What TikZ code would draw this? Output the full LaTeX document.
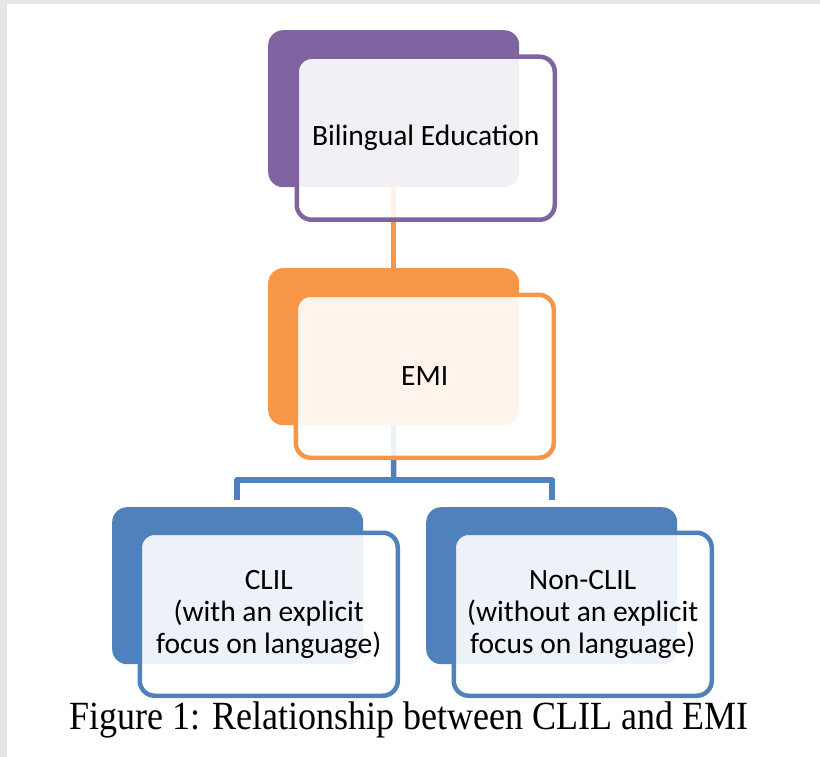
\documentclass[tikz,border=0pt]{standalone}
\usepackage{fontspec}
\setmainfont{Liberation Serif}
\newfontfamily\boxfont{Carlito}
\definecolor{cpurple}{HTML}{8064A2}
\definecolor{corange}{HTML}{F79646}
\definecolor{cblue}{HTML}{4F81BD}
\definecolor{cgray}{HTML}{E6E6E6}
\begin{document}
\begin{tikzpicture}[x=1pt,y=-1pt,
  backbox/.style={rectangle, rounded corners=15pt, minimum width=251pt, minimum height=157pt, anchor=north west, inner sep=0pt},
  frontbox/.style={rectangle, rounded corners=15pt, minimum width=258pt, minimum height=163pt, anchor=north west, line width=4.5pt, fill=white, fill opacity=0.9, text opacity=1, align=center, font=\boxfont\fontsize{29.5}{32}\selectfont, text=black, inner sep=0pt},
  link/.style={line width=5.5pt}
]
\useasboundingbox (0,0) rectangle (820,757);
\fill[white] (0,0) rectangle (820,757);
\fill[cgray] (0,0) rectangle (820,4);
\fill[cgray] (0,0) rectangle (7,757);

% back boxes
\node[backbox, fill=cpurple] (pb) at (268,30) {};
\node[backbox, fill=corange] (ob) at (268,268) {};
\node[backbox, fill=cblue] (lb) at (112,507) {};
\node[backbox, fill=cblue] (rb) at (426,507) {};

% connectors
\draw[link, corange] (pb.south) -- ([yshift=-6pt]ob.north);
\coordinate (hb) at (393.5,480);
\draw[link, cblue] (ob.south) -- (hb);
\coordinate (jl) at (237,500);
\coordinate (jr) at (552,500);
\draw[link, cblue, line join=round] (jl) -- (jl |- hb) -- (jr |- hb) -- (jr);

% front boxes
\node[frontbox, draw=cpurple] (pf) at (294.5,54.5) {Bilingual Education};
\node[frontbox, draw=corange] (of) at (293.5,292.5) {EMI};
\node[frontbox, draw=cblue] (lf) at (137.5,530.5) {CLIL\\(with an explicit\\focus on language)};
\node[frontbox, draw=cblue] (rf) at (451.5,530.5) {Non-CLIL\\(without an explicit\\focus on language)};

% caption
\node[font=\fontsize{40}{44}\selectfont, anchor=center] (cap) at (409,720) {\scalebox{0.9}[1]{Figure 1: Relationship between CLIL and EMI}};
\end{tikzpicture}
\end{document}
